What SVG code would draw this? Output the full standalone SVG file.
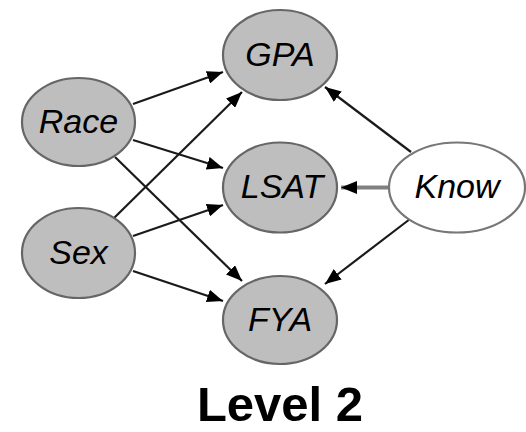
<svg xmlns="http://www.w3.org/2000/svg" width="526" height="432" viewBox="0 0 526 432">
<style>
.node ellipse{fill:#bebebe;stroke:#666;stroke-width:2.2}
.node.obs ellipse{fill:#fff;stroke:#777}
.node text{font-family:"Liberation Sans",Arial,sans-serif;font-style:italic;font-size:34px;fill:#000;text-anchor:middle}
.edges line{stroke:#1a1a1a;stroke-width:2.2}
.title{font-family:"Liberation Sans",Arial,sans-serif;font-weight:bold;font-size:49px;fill:#000;text-anchor:middle}
</style>
<defs>
<marker id="ah" markerUnits="userSpaceOnUse" markerWidth="17" markerHeight="13" refX="16" refY="6.5" orient="auto" viewBox="0 0 17 13">
<path d="M0,0 L16,6.5 L0,13 Z" fill="#000"/>
</marker>
</defs>
<rect width="526" height="432" fill="#fff"/>
<g class="edges">
<line x1="133" y1="104" x2="223" y2="72" marker-end="url(#ah)"/>
<line x1="133" y1="140" x2="223" y2="168" marker-end="url(#ah)"/>
<line x1="115" y1="157" x2="242" y2="281" marker-end="url(#ah)"/>
<line x1="113" y1="219" x2="242" y2="92" marker-end="url(#ah)"/>
<line x1="133" y1="236" x2="223" y2="205" marker-end="url(#ah)"/>
<line x1="133" y1="271" x2="223" y2="301" marker-end="url(#ah)"/>
<line x1="411" y1="152" x2="325" y2="87" marker-end="url(#ah)"/>
<line x1="389" y1="187.5" x2="341" y2="187.5" marker-end="url(#ah)" style="stroke:#808080;stroke-width:4"/>
<line x1="410" y1="219" x2="325" y2="284" marker-end="url(#ah)"/>
</g>
<g id="race" class="node"><ellipse cx="78.5" cy="122" rx="56.5" ry="44"/><text x="78.5" y="133">Race</text></g>
<g id="sex" class="node"><ellipse cx="78.5" cy="253" rx="56.5" ry="45"/><text x="78.5" y="264">Sex</text></g>
<g id="gpa" class="node"><ellipse cx="280" cy="55" rx="57" ry="45"/><text x="280" y="66">GPA</text></g>
<g id="lsat" class="node"><ellipse cx="280" cy="187.5" rx="57" ry="45"/><text x="282" y="198">LSAT</text></g>
<g id="fya" class="node"><ellipse cx="280" cy="320" rx="57" ry="44"/><text x="280" y="331">FYA</text></g>
<g id="know" class="node obs"><ellipse cx="457" cy="187.5" rx="68" ry="45"/><text x="457" y="198">Know</text></g>
<text class="title" x="280" y="421">Level 2</text>
</svg>
